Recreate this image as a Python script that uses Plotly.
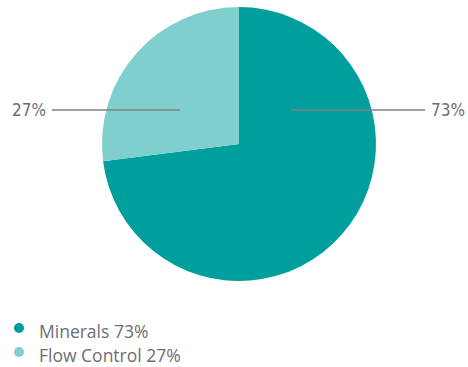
import plotly.graph_objects as go

# Segment data
categories = ["Minerals", "Flow Control"]
shares = [73, 27]
colors = ["#009e9c", "#80cfcf"]

W, H = 468, 367

def px(x):
    return x / W

def py(y):
    return 1 - y / H

fig = go.Figure()

# Pie: clockwise from 12 o'clock
cx, cy, r = 239, 144, 137
fig.add_trace(go.Pie(
    labels=categories,
    values=shares,
    marker=dict(colors=colors, line=dict(width=0)),
    sort=False,
    direction="clockwise",
    rotation=0,
    textinfo="none",
    hoverinfo="label+percent",
    showlegend=False,
    domain=dict(x=[px(cx - r), px(cx + r)], y=[py(cy + r), py(cy - r)]),
))

# Leader lines and percentage labels
label_font = dict(family="DejaVu Sans Condensed, Liberation Sans Narrow, sans-serif",
                  size=17, color="#6d6e71")
line_style = dict(color="#808080", width=1.5)
ly = 110
fig.add_shape(type="line", xref="paper", yref="paper",
              x0=px(52), x1=px(180), y0=py(ly), y1=py(ly), line=line_style)
fig.add_shape(type="line", xref="paper", yref="paper",
              x0=px(291), x1=px(425), y0=py(ly), y1=py(ly), line=line_style)
fig.add_annotation(x=px(10), y=py(ly), xref="paper", yref="paper",
                   text=f"{shares[1]}%", showarrow=False,
                   xanchor="left", yanchor="middle", font=label_font)
fig.add_annotation(x=px(467), y=py(ly), xref="paper", yref="paper",
                   text=f"{shares[0]}%", showarrow=False,
                   xanchor="right", yanchor="middle", font=label_font)

# Legend: round swatch followed by "name value%"
legend_font = dict(family="Open Sans, sans-serif", size=17.5, color="#6d6e71")
row_y = [331, 355]
dot_r = 5
for name, val, col, yy in zip(categories, shares, colors, row_y):
    fig.add_shape(type="circle", xref="paper", yref="paper",
                  x0=px(19 - dot_r), x1=px(19 + dot_r),
                  y0=py(yy - 3 + dot_r), y1=py(yy - 3 - dot_r),
                  fillcolor=col, line=dict(width=0))
    fig.add_annotation(x=px(37), y=py(yy), xref="paper", yref="paper",
                       text=f"{name} {val}%", showarrow=False,
                       xanchor="left", yanchor="middle", font=legend_font)

fig.update_layout(
    width=W, height=H,
    margin=dict(l=0, r=0, t=0, b=0, autoexpand=False),
    paper_bgcolor="white",
    plot_bgcolor="white",
    showlegend=False,
)

fig.write_html("out.html")
